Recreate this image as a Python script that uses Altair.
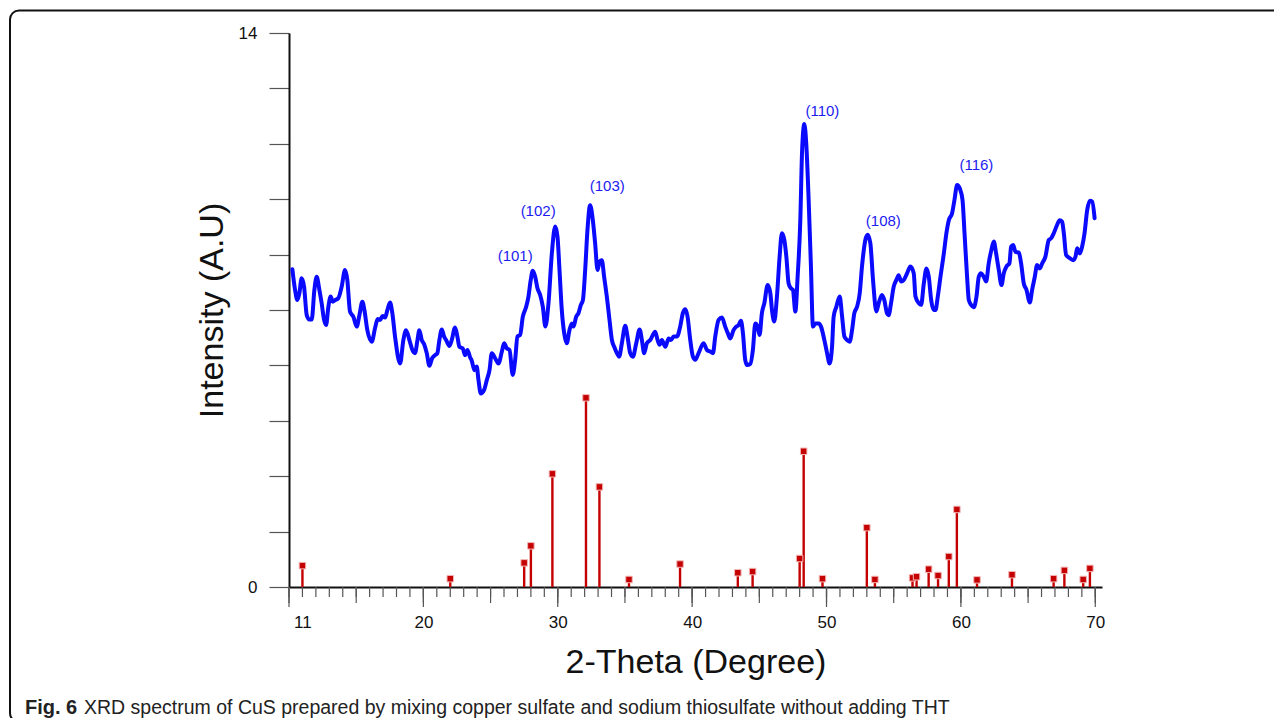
import altair as alt
import pandas as pd

# ---- measured XRD curve (2-theta, intensity) ----
two_theta = [10.25, 10.45, 10.62, 10.77, 10.94, 11.12, 11.32, 11.51, 11.69, 11.89, 12.06, 12.26, 12.43, 12.61,
             12.76, 12.93, 13.10, 13.25, 13.43, 13.67, 13.92, 14.17, 14.34, 14.54, 14.79, 15.04, 15.24, 15.46,
             15.61, 15.83, 16.16, 16.40, 16.60, 16.78, 16.97, 17.15, 17.32, 17.52, 17.69, 17.89, 18.27, 18.51,
             18.71, 18.96, 19.18, 19.38, 19.56, 19.70, 19.88, 20.05, 20.25, 20.45, 20.65, 20.87, 21.04, 21.19,
             21.37, 21.54, 21.69, 21.94, 22.11, 22.36, 22.53, 22.68, 22.93, 23.10, 23.28, 23.48, 23.60, 23.80,
             23.97, 24.10, 24.27, 24.52, 24.72, 24.92, 25.09, 25.34, 25.59, 25.84, 26.01, 26.21, 26.41, 26.65,
             26.83, 27.00, 27.20, 27.40, 27.65, 27.82, 27.99, 28.14, 28.32, 28.49, 28.69, 28.89, 29.08,
             29.31, 29.56, 29.81, 29.98, 30.13, 30.30, 30.48, 30.67, 30.87, 31.05, 31.17, 31.37, 31.54, 31.72,
             31.87, 32.04, 32.21, 32.41, 32.61, 32.78, 32.96, 33.11, 33.28, 33.45, 33.65, 33.85, 34.03, 34.20,
             34.40, 34.57, 34.77, 35.02, 35.19, 35.39, 35.59, 35.84, 36.09, 36.26, 36.43, 36.63, 36.88, 37.25,
             37.43, 37.58, 37.75, 38.00, 38.25, 38.42, 38.62, 38.87, 39.11, 39.31, 39.49, 39.66, 39.86, 40.06,
             40.23, 40.48, 40.85, 41.10, 41.35, 41.55, 41.72, 41.97, 42.22, 42.46, 42.66, 42.84, 43.08, 43.28,
             43.46, 43.63, 43.78, 43.95, 44.08, 44.33, 44.52, 44.70, 44.87, 45.02, 45.19, 45.37, 45.62, 45.82,
             45.94, 46.11, 46.31, 46.51, 46.68, 46.86, 47.01, 47.18, 47.35, 47.50, 47.68, 47.85, 48.05, 48.18,
             48.35, 48.49, 48.67, 48.84, 48.99, 49.17, 49.42, 49.59, 49.84, 50.04, 50.23, 50.41, 50.53, 50.73,
             50.98, 51.16, 51.33, 51.53, 51.72, 51.90, 52.07, 52.27, 52.47, 52.64, 52.89, 53.06, 53.26, 53.46,
             53.71, 53.88, 54.13, 54.30, 54.50, 54.62, 54.80, 55.00, 55.20, 55.37, 55.55, 55.75, 56.00, 56.24,
             56.49, 56.62, 56.87, 57.04, 57.24, 57.44, 57.61, 57.79, 57.98, 58.11, 58.28, 58.48, 58.73, 58.92,
             59.10, 59.34, 59.52, 59.72, 59.92, 60.12, 60.27, 60.46, 60.59, 60.76, 60.96, 61.16, 61.33, 61.50,
             61.70, 61.88, 62.07, 62.27, 62.45, 62.62, 62.82, 63.02, 63.19, 63.39, 63.61, 63.74, 63.89, 64.06,
             64.31, 64.48, 64.68, 64.88, 65.13, 65.30, 65.50, 65.67, 65.87, 66.05, 66.29, 66.54, 66.71, 66.91,
             67.11, 67.36, 67.53, 67.66, 67.83, 68.10, 68.35, 68.53, 68.65, 68.85, 69.02, 69.20, 69.40, 69.60,
             69.77, 69.95]
intensity = [8.03, 7.51, 7.25, 7.42, 7.80, 7.59, 6.87, 6.76, 6.76, 7.51, 7.84, 7.51, 7.17, 6.75,
             6.62, 7.08, 7.34, 7.21, 7.25, 7.30, 7.59, 8.01, 7.76, 6.96, 6.83, 6.58, 6.87, 7.21,
             7.00, 6.49, 6.20, 6.54, 6.77, 6.75, 6.85, 6.81, 7.00, 7.19, 6.92, 6.33, 5.65, 6.24,
             6.49, 6.24, 5.99, 5.91, 6.24, 6.49, 6.24, 6.14, 5.91, 5.59, 5.78, 5.86, 5.91, 6.24,
             6.51, 6.33, 6.24, 6.09, 6.24, 6.56, 6.33, 6.07, 6.03, 5.86, 5.99, 5.80, 5.72, 5.48,
             5.57, 5.23, 4.89, 4.98, 5.23, 5.48, 5.91, 5.78, 5.65, 5.95, 6.16, 6.03, 5.99, 5.36,
             5.74, 6.33, 6.37, 6.83, 7.08, 7.34, 7.76, 7.99, 7.84, 7.55, 7.38, 7.08, 6.58,
             7.17, 8.43, 9.11, 8.85, 8.01, 7.00, 6.41, 6.16, 6.49, 6.66, 6.58, 6.83, 6.92, 7.13,
             7.25, 8.01, 9.02, 9.65, 9.27, 8.69, 8.01, 8.22, 8.26, 7.84, 7.34, 6.75, 6.24, 6.07,
             5.91, 5.82, 6.16, 6.60, 6.33, 5.91, 5.82, 6.16, 6.51, 6.24, 5.91, 6.16, 6.24, 6.45,
             6.24, 6.12, 6.24, 6.07, 6.28, 6.24, 6.33, 6.33, 6.58, 6.92, 7.02, 6.83, 6.24, 5.82,
             5.74, 5.91, 6.16, 5.99, 5.95, 5.91, 6.33, 6.75, 6.81, 6.58, 6.41, 6.28, 6.49, 6.58,
             6.62, 6.73, 6.41, 5.74, 5.61, 5.64, 5.99, 6.66, 6.58, 6.37, 6.92, 7.17, 7.63, 7.42,
             7.00, 6.71, 7.34, 8.35, 8.94, 8.77, 8.35, 7.67, 7.55, 7.51, 6.96, 7.84, 9.27, 11.00,
             11.70, 11.21, 9.78, 8.10, 6.58, 6.66, 6.66, 6.58, 6.24, 5.91, 5.65, 6.07, 6.83, 7.08,
             7.34, 6.83, 6.33, 6.24, 6.20, 6.49, 6.92, 7.08, 7.42, 8.10, 8.77, 8.90, 8.69, 7.76,
             6.96, 7.17, 7.38, 7.25, 6.92, 6.87, 7.17, 7.59, 7.76, 7.88, 7.72, 7.76, 7.93, 8.10,
             7.93, 7.34, 7.17, 7.13, 7.67, 8.05, 7.84, 7.25, 7.00, 7.00, 7.34, 7.84, 8.43, 8.94,
             9.27, 9.44, 9.78, 10.16, 10.07, 9.78, 8.94, 7.84, 7.25, 7.13, 7.07, 7.34, 7.84, 7.93,
             7.84, 7.72, 8.18, 8.52, 8.73, 8.43, 8.01, 7.63, 7.93, 8.10, 8.18, 8.60, 8.64, 8.47,
             8.45, 8.18, 7.67, 7.51, 7.19, 7.51, 7.84, 8.14, 8.05, 8.18, 8.35, 8.77, 8.81, 8.94,
             9.11, 9.27, 9.23, 8.94, 8.39, 8.31, 8.26, 8.35, 8.56, 8.43, 8.60, 8.94, 9.53, 9.76,
             9.74, 9.32]

# ---- reference pattern sticks ----
ref_pos = [11.0, 22.0, 27.5, 28.0, 29.6, 32.1, 33.1, 35.3, 39.1, 43.4, 44.5, 48.0, 48.3, 49.7, 53.0, 53.6,
           56.4, 56.7, 57.6, 58.3, 59.1, 59.7, 61.2, 63.8, 66.9, 67.7, 69.1, 69.6]
ref_int = [0.54, 0.21, 0.61, 1.04, 2.86, 4.78, 2.53, 0.19, 0.58, 0.36, 0.39, 0.72, 3.43, 0.21, 1.50, 0.19,
           0.23, 0.26, 0.45, 0.29, 0.77, 1.96, 0.18, 0.31, 0.21, 0.42, 0.19, 0.47]

# ---- peak labels ----
peak_text = ["(101)", "(102)", "(103)", "(110)", "(108)", "(116)"]
peak_x = [26.83, 28.54, 33.68, 49.69, 54.23, 61.15]
peak_y = [8.36, 9.50, 10.13, 12.03, 9.25, 10.66]

# ---- axes ----
y_tick_values = [0, 1.4, 2.8, 4.2, 5.6, 7.0, 8.4, 9.8, 11.2, 12.6, 14]
x_label_values = [11, 20, 30, 40, 50, 60, 70]
x_minor_ticks = list(range(10, 71))

caption_bold = "Fig. 6"
caption_rest = "XRD spectrum of CuS prepared by mixing copper sulfate and sodium thiosulfate without adding THT"

FONT = "Liberation Sans, Arial, sans-serif"
W, H = 813, 554

xscale = alt.Scale(domain=[10, 70.5], nice=False, zero=False)
yscale = alt.Scale(domain=[0, 14], nice=False, zero=True)

curve_df = pd.DataFrame({"tt": two_theta, "I": intensity})
stick_df = pd.DataFrame({"tt": ref_pos, "I": ref_int})
peak_df = pd.DataFrame({"tt": peak_x, "I": peak_y, "lab": peak_text})
tick_df = pd.DataFrame({"tt": x_minor_ticks})

x_axis = alt.Axis(values=x_label_values, ticks=False, tickSize=0, labelPadding=35, labelBaseline="middle",
                  labelFontSize=17, labelFont=FONT, labelColor="#111", domainColor="#111", domainWidth=2,
                  grid=False, title="2-Theta (Degree)", titleFont=FONT, titleFontSize=34,
                  titleFontWeight="normal", titleColor="#111", titleY=75, titleBaseline="middle")
y_axis = alt.Axis(values=y_tick_values, labelExpr="datum.value == 0 || datum.value == 14 ? datum.label : ''",
                  tickSize=20, tickColor="#555", tickWidth=1.2, labelPadding=12, labelFontSize=17,
                  labelFont=FONT, labelColor="#111", domainColor="#111", domainWidth=2, grid=False,
                  title="Intensity (A.U)", titleFont=FONT, titleFontSize=34, titleFontWeight="normal",
                  titleColor="#111", titleX=-77, titleY=277, titleBaseline="middle", titleAngle=270,
                  titleAlign="center")

X = alt.X("tt:Q", scale=xscale, axis=x_axis)
Y = alt.Y("I:Q", scale=yscale, axis=y_axis)

curve = alt.Chart(curve_df).mark_line(color="#0a0aff", strokeWidth=4, interpolate="monotone",
                                      strokeJoin="round", strokeCap="round").encode(
    x=X, y=Y, order="tt:Q",
)

sticks = alt.Chart(stick_df).mark_rule(color="#c40000", strokeWidth=2.4).encode(
    x=X, y=Y, y2=alt.datum(0),
)
heads = alt.Chart(stick_df).mark_square(size=42, color="#c40000", fill="#c40000", stroke="#f3b5b5",
                                        strokeWidth=1, opacity=1).encode(x=X, y=Y)

peaks = alt.Chart(peak_df).mark_text(font=FONT, fontSize=15, color="#1c1cf0").encode(
    x=X, y=Y, text="lab:N",
)

def tick_layer(cond, length):
    return alt.Chart(tick_df).transform_filter(cond).mark_rule(color="#555", strokeWidth=1.2).encode(
        x=X, y=alt.value(H), y2=alt.value(H + length),
    )

ticks_minor = tick_layer("true", 10)
ticks_5 = tick_layer("datum.tt % 5 == 0", 16)
ticks_10 = tick_layer("datum.tt % 10 == 0", 20)

one = alt.Data(values=[{"k": 1}])
frame = alt.Chart(one).mark_rect(fill=None, stroke="#111", strokeWidth=2, cornerRadius=9).encode(
    x=alt.value(-279), x2=alt.value(1030), y=alt.value(-22.5), y2=alt.value(689),
)
cap1 = alt.Chart(one).mark_text(text=caption_bold, font=FONT, fontSize=20, fontWeight="bold",
                                align="left", baseline="alphabetic", color="#222").encode(
    x=alt.value(-264), y=alt.value(681),
)
cap2 = alt.Chart(one).mark_text(text=caption_rest, font=FONT,
                                fontSize=19.5, align="left", baseline="alphabetic", color="#222").encode(
    x=alt.value(-205), y=alt.value(681),
)

chart = alt.layer(frame, ticks_minor, ticks_5, ticks_10, sticks, heads, curve, peaks, cap1, cap2).properties(
    width=W, height=H,
    autosize=alt.AutoSizeParams(type="none"),
    padding={"left": 281, "top": 25, "right": 172, "bottom": 131},
).configure(background="white").configure_view(strokeWidth=0)

chart.save("out.html", embed_options={"renderer": "svg", "actions": False})
